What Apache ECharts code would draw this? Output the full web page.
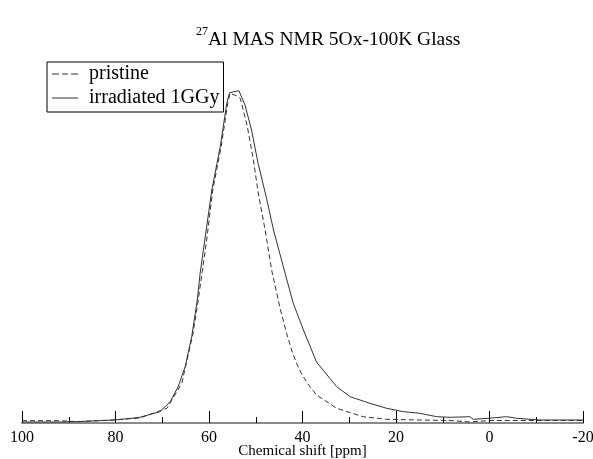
<!DOCTYPE html>
<html>
<head>
<meta charset="utf-8">
<script src="https://cdn.jsdelivr.net/npm/echarts@6/dist/echarts.min.js"></script>
<style>html,body{margin:0;padding:0;background:#fff}#c{width:593px;height:459px}</style>
</head>
<body>
<div id="c"></div>
<script>
// Chemical shift (ppm) and intensity (arbitrary units) for each series
const irrShift = [100, 92, 87.6, 80.1, 74.8, 70.5, 68.3, 66.6, 65.1, 63.7, 62.5, 61.9, 60.9, 59.4, 57.6, 56.2, 55.6, 53.6, 52.3, 50.9, 49.5, 47.7, 46.2, 44.1, 42.0, 39.8, 37.0, 32.7, 29.8, 25.6, 22.0, 18.4, 14.9, 11.3, 8.4, 4.2, 3.5, 0.3, -3.7, -5.8, -10.8, -20];
const irrInt   = [1, 1, 1.5, 3, 5.7, 11.3, 21.3, 36.3, 56.3, 86.3, 123, 149.7, 183, 233, 276.3, 319.7, 330.3, 332.3, 318, 293, 259.7, 224.7, 193, 156.3, 120, 93, 61, 36.3, 26.3, 19.7, 14.7, 11.3, 9.7, 6.3, 5.7, 6.3, 3.7, 4.7, 6.3, 4.7, 3, 3];
const priShift = [100, 91.9, 88, 84, 80.5, 74.8, 69.0, 65.8, 63.4, 62.3, 60.5, 59.2, 57.4, 56.0, 55.5, 54.2, 53.3, 51.8, 50.5, 49.5, 48.0, 46.6, 44.8, 43.4, 42.2, 41.2, 40.3, 39.0, 37.0, 32.7, 27.0, 22.0, 14.9, 8.4, 4.2, -0.1, -20];
const priInt   = [2.3, 2.3, 1.3, 2.3, 3, 5, 14.7, 40, 90, 123, 183, 233, 276.3, 319.7, 329.5, 327.5, 324.7, 296.3, 263, 231, 193, 153, 114.7, 89.7, 71, 59, 50, 40, 28, 14.7, 6.3, 3.7, 3, 2.5, 1, 2.5, 2.5];
const xTicks = [100, 80, 60, 40, 20, 0, -20];

const zip = (a, b) => a.map((v, i) => [v, b[i]]);

const chart = echarts.init(document.getElementById('c'));
chart.setOption({
  animation: false,
  backgroundColor: '#fff',
  title: {
    text: '{sup|27}{main|Al MAS NMR 5Ox-100K Glass}',
    left: 191,
    top: 21,
    textStyle: {
      fontWeight: 'normal',
      rich: {
        sup: { fontFamily: 'Liberation Serif', fontSize: 12, fontWeight: 'normal', color: '#000', verticalAlign: 'top', lineHeight: 24 },
        main: { fontFamily: 'Liberation Serif', fontSize: 19.5, fontWeight: 'normal', color: '#000', verticalAlign: 'bottom', lineHeight: 24 }
      }
    }
  },
  legend: {
    left: 47,
    top: 62,
    orient: 'vertical',
    borderColor: '#000',
    borderWidth: 1,
    padding: [2, 4, 4, 5],
    itemGap: 4,
    itemWidth: 26,
    itemHeight: 12,
    textStyle: { fontFamily: 'Liberation Serif', fontSize: 20, color: '#000', padding: [0, 0, 0, 6] },
    data: [
      { name: 'pristine', icon: 'path://M0,5 L7,5 L7,6 L0,6 Z M10,5 L16,5 L16,6 L10,6 Z M19,5 L26,5 L26,6 L19,6 Z', itemStyle: { color: '#333' } },
      { name: 'irradiated 1GGy', icon: 'path://M0,5 L26,5 L26,6 L0,6 Z', itemStyle: { color: '#333' } }
    ]
  },
  grid: { left: 22, right: 10, top: 62, bottom: 36, outerBoundsMode: 'none', containLabel: false },
  xAxis: {
    type: 'value',
    inverse: true,
    min: -20,
    max: 100,
    interval: 20,
    name: 'Chemical shift [ppm]',
    nameLocation: 'middle',
    nameGap: 21,
    nameMoveOverlap: false,
    nameTextStyle: { fontFamily: 'Liberation Serif', fontSize: 15, color: '#000' },
    axisLine: { show: true, lineStyle: { color: '#8a8a8a', width: 2 } },
    axisTick: { show: true, inside: true, length: 12, lineStyle: { color: '#000', width: 1 } },
    minorTick: { show: true, splitNumber: 2, length: 6, lineStyle: { color: '#000', width: 1 } },
    axisLabel: { fontFamily: 'Liberation Serif', fontSize: 16, color: '#000', margin: 7,
      formatter: v => xTicks.includes(v) ? String(v) : '' },
    splitLine: { show: false }
  },
  yAxis: {
    type: 'value',
    min: 0,
    max: 361,
    show: false
  },
  series: [
    {
      name: 'pristine',
      type: 'line',
      data: zip(priShift, priInt),
      showSymbol: false,
      symbol: 'none',
      lineStyle: { color: '#333', width: 1, type: [5, 3] },
      itemStyle: { color: '#333' }
    },
    {
      name: 'irradiated 1GGy',
      type: 'line',
      data: zip(irrShift, irrInt),
      showSymbol: false,
      symbol: 'none',
      lineStyle: { color: '#333', width: 1 },
      itemStyle: { color: '#333' }
    }
  ]
});
</script>
</body>
</html>
